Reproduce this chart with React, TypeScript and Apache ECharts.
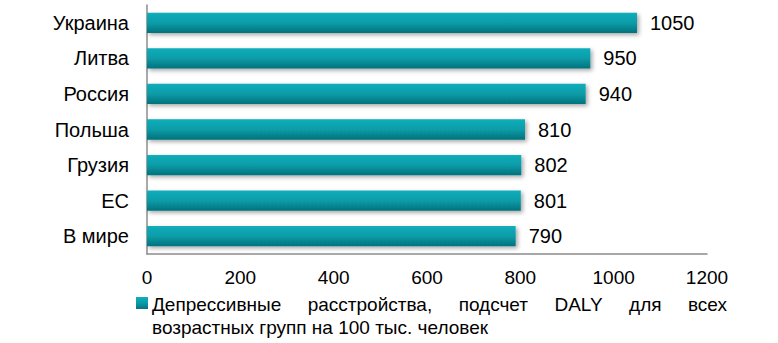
import React, { useEffect, useRef } from "react";
import * as echarts from "echarts";

const categories = ["Украина", "Литва", "Россия", "Польша", "Грузия", "ЕС", "В мире"];
const values = [1050, 950, 940, 810, 802, 801, 790];
const seriesName = "Депрессивные расстройства, подсчет DALY для всех возрастных групп на 100 тыс. человек";
const legendLine1 = ["Депрессивные", "расстройства,", "подсчет", "DALY", "для", "всех"];
const legendLine2 = "возрастных групп на 100 тыс. человек";
const xTicks = { min: 0, max: 1200, interval: 200 };

const FONT = "'Liberation Sans', Arial, sans-serif";
const LEGEND_FONT = 19;

function measure(text: string, size: number): number {
  const c = document.createElement("canvas").getContext("2d");
  if (!c) return text.length * size * 0.5;
  c.font = `${size}px 'Liberation Sans', Arial, sans-serif`;
  return c.measureText(text).width;
}

export default function App() {
  const ref = useRef<HTMLDivElement>(null);
  useEffect(() => {
    if (!ref.current) return;
    const chart = echarts.init(ref.current, null, { renderer: "svg" });
    const grad = new echarts.graphic.LinearGradient(0, 0, 0, 1, [
      { offset: 0, color: "#13adbb" },
      { offset: 0.5, color: "#079ca8" },
      { offset: 1, color: "#06727c" },
    ]);
    const x0 = 152;
    const x1 = 727;
    const widths = legendLine1.map((w) => measure(w, LEGEND_FONT));
    const total = widths.reduce((a, b) => a + b, 0);
    const gap = (x1 - x0 - total) / (legendLine1.length - 1);
    const wordX: number[] = [];
    let acc = x0;
    widths.forEach((w) => {
      wordX.push(acc);
      acc += w + gap;
    });
    chart.setOption({
      animation: false,
      textStyle: { fontFamily: FONT },
      grid: { left: 147, top: 5, width: 560, height: 249, containLabel: false },
      legend: {
        show: true,
        left: 131,
        top: 292,
        itemWidth: 12,
        itemHeight: 12,
        icon: "rect",
        formatter: () => "",
        textStyle: { fontSize: 1 },
        data: [{ name: seriesName, itemStyle: { color: grad } }],
        selectedMode: false,
      },
      xAxis: {
        type: "value",
        min: xTicks.min,
        max: xTicks.max,
        interval: xTicks.interval,
        axisLine: { show: true, lineStyle: { color: "#8c8c8c", width: 1.5 } },
        axisTick: { show: false },
        splitLine: { show: false },
        axisLabel: {
          fontSize: 19,
          color: "#000",
          margin: 14,
          fontFamily: FONT,
          formatter: (v: number) => String(v),
        },
      },
      yAxis: {
        type: "category",
        inverse: true,
        data: categories,
        axisLine: { show: true, lineStyle: { color: "#8c8c8c", width: 1.5 } },
        axisTick: { show: false },
        axisLabel: { fontSize: 20, color: "#000", margin: 18, fontFamily: FONT },
      },
      series: [
        {
          name: seriesName,
          type: "bar",
          data: values,
          barCategoryGap: "43%",
          itemStyle: {
            color: grad,
            shadowColor: "rgba(0,0,0,0.35)",
            shadowBlur: 4,
            shadowOffsetX: 2,
            shadowOffsetY: 2,
          },
          label: {
            show: true,
            position: "right",
            distance: 13,
            fontSize: 20,
            color: "#000",
            fontFamily: FONT,
          },
        },
      ],
      graphic: [
        ...legendLine1.map((w, i) => ({
          type: "text",
          x: wordX[i],
          y: 304,
          style: {
            text: w,
            fontSize: LEGEND_FONT,
            fill: "#000",
            fontFamily: FONT,
            align: "left",
            verticalAlign: "middle",
          },
        })),
        {
          type: "text",
          x: x0,
          y: 327,
          style: {
            text: legendLine2,
            fontSize: LEGEND_FONT,
            fill: "#000",
            fontFamily: FONT,
            align: "left",
            verticalAlign: "middle",
          },
        },
      ],
    });
    return () => chart.dispose();
  }, []);
  return (
    <div
      ref={ref}
      style={{ position: "fixed", left: 0, top: 0, width: 778, height: 343, background: "#fff" }}
    />
  );
}
